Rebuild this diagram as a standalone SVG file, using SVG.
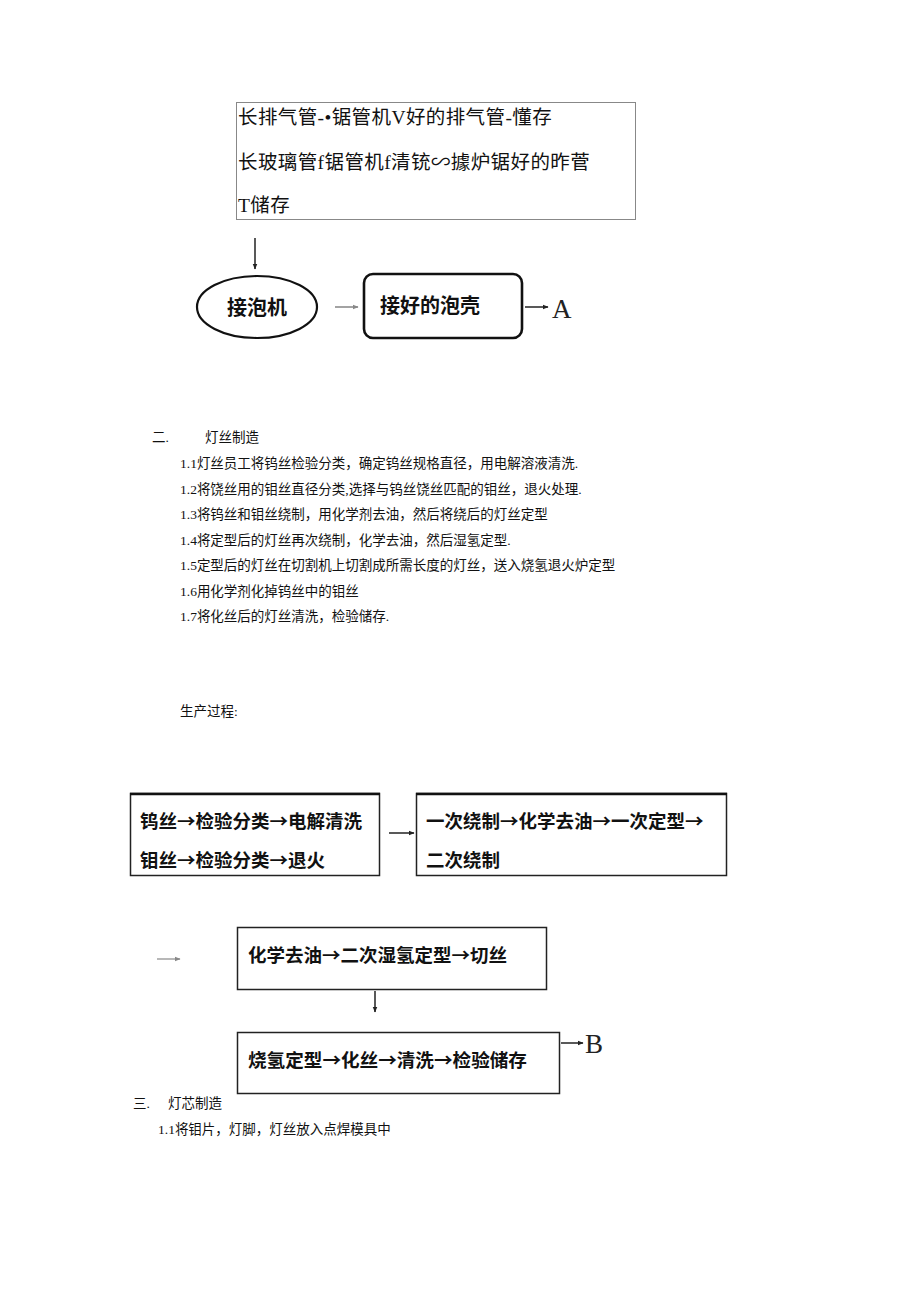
<svg xmlns="http://www.w3.org/2000/svg" width="920" height="1302" viewBox="0 0 920 1302">
<style>
.t{font-family:"Liberation Serif","Noto Sans CJK SC",serif;fill:#111}
.top{font-size:19.5px;letter-spacing:0.4px}
.body{font-size:13.5px}
.bold{font-family:"Noto Sans CJK SC",sans-serif;font-weight:bold;fill:#111}
.b19{font-size:18.5px}
.big{font-family:"Liberation Serif",serif;font-size:27px;fill:#222}
.box{fill:#fff;stroke:#222;stroke-width:1.5}
.ln{stroke:#222;stroke-width:1.5;fill:none}
</style>
<defs>
<marker id="ah" viewBox="0 0 10 10" refX="9" refY="5" markerWidth="6" markerHeight="6" orient="auto" markerUnits="userSpaceOnUse">
<path d="M0,1 L10,5 L0,9 z" fill="#222"/>
</marker>
<marker id="ahg" viewBox="0 0 10 10" refX="9" refY="5" markerWidth="6" markerHeight="6" orient="auto" markerUnits="userSpaceOnUse">
<path d="M0,1 L10,5 L0,9 z" fill="#888"/>
</marker>
</defs>
<rect width="920" height="1302" fill="#fff"/>

<g id="node-top">
<rect x="236.5" y="102.5" width="399" height="117" fill="#fff" stroke="#888" stroke-width="1"/>
<text class="t top" x="238" y="124">长排气管-•锯管机V好的排气管-懂存</text>
<text class="t top" x="238" y="169">长玻璃管f锯管机f清铳∽據炉锯好的昨菅</text>
<text class="t top" x="238" y="212">T储存</text>
</g>

<g id="node-jiepaoji">
<ellipse cx="257" cy="307" rx="60" ry="31" fill="#fff" stroke="#111" stroke-width="2.2"/>
<text class="bold" x="257" y="315" font-size="20" text-anchor="middle">接泡机</text>
</g>

<g id="node-paoke">
<rect x="364" y="274" width="158" height="64" rx="9" fill="#fff" stroke="#111" stroke-width="2.6"/>
<text class="bold" x="380" y="313" font-size="20">接好的泡壳</text>
</g>
<text id="label-A" class="big" x="552" y="318">A</text>

<g id="section2">
<text class="t body" x="152" y="442">二.</text>
<text class="t body" x="205" y="442">灯丝制造</text>
<text class="t body" x="180" y="468">1.1灯丝员工将钨丝检验分类，确定钨丝规格直径，用电解溶液清洗.</text>
<text class="t body" x="180" y="494">1.2将饶丝用的钼丝直径分类,选择与钨丝饶丝匹配的钼丝，退火处理.</text>
<text class="t body" x="180" y="519">1.3将钨丝和钼丝绕制，用化学剂去油，然后将绕后的灯丝定型</text>
<text class="t body" x="180" y="545">1.4将定型后的灯丝再次绕制，化学去油，然后湿氢定型.</text>
<text class="t body" x="180" y="570">1.5定型后的灯丝在切割机上切割成所需长度的灯丝，送入烧氢退火炉定型</text>
<text class="t body" x="180" y="596">1.6用化学剂化掉钨丝中的钼丝</text>
<text class="t body" x="180" y="621">1.7将化丝后的灯丝清洗，检验储存.</text>
<text class="t body" x="180" y="716">生产过程:</text>
</g>

<g id="node-box1">
<rect class="box" x="130.5" y="793.5" width="249" height="82"/>
<line x1="130" y1="794" x2="380" y2="794" stroke="#111" stroke-width="2.5"/>
<text class="bold b19" x="140" y="828">钨丝→检验分类→电解清洗</text>
<text class="bold b19" x="140" y="867">钼丝→检验分类→退火</text>
</g>

<g id="node-box2">
<rect class="box" x="416.5" y="793.5" width="310" height="82"/>
<line x1="416" y1="794" x2="727" y2="794" stroke="#111" stroke-width="2.5"/>
<text class="bold b19" x="426" y="828">一次绕制→化学去油→一次定型→</text>
<text class="bold b19" x="426" y="867">二次绕制</text>
</g>

<g id="node-box3">
<rect class="box" x="237.5" y="927.5" width="309" height="62"/>
<text class="bold b19" x="248" y="962">化学去油→二次湿氢定型→切丝</text>
</g>

<g id="node-box4">
<rect class="box" x="237.5" y="1032.5" width="322" height="61"/>
<text class="bold" x="248" y="1067" font-size="18.6">烧氢定型→化丝→清洗→检验储存</text>
</g>
<text id="label-B" class="big" x="585" y="1053">B</text>

<g id="section3">
<text class="t body" x="133" y="1108">三.</text>
<text class="t body" x="168" y="1108">灯芯制造</text>
<text class="t body" x="158" y="1134">1.1将钼片，灯脚，灯丝放入点焊模具中</text>
</g>

<g id="connectors">
<line class="ln" x1="255" y1="238" x2="255" y2="269" marker-end="url(#ah)"/>
<line x1="335" y1="307" x2="358" y2="307" stroke="#666" stroke-width="1.2" marker-end="url(#ahg)"/>
<line class="ln" x1="525" y1="307" x2="548" y2="307" marker-end="url(#ah)"/>
<line class="ln" x1="389" y1="833" x2="414" y2="833" marker-end="url(#ah)"/>
<line x1="157" y1="959" x2="180" y2="959" stroke="#888" stroke-width="1.2" marker-end="url(#ahg)"/>
<line class="ln" x1="375" y1="991" x2="375" y2="1012" marker-end="url(#ah)"/>
<line class="ln" x1="561" y1="1043" x2="583" y2="1043" stroke-width="2" marker-end="url(#ah)"/>
</g>
</svg>
